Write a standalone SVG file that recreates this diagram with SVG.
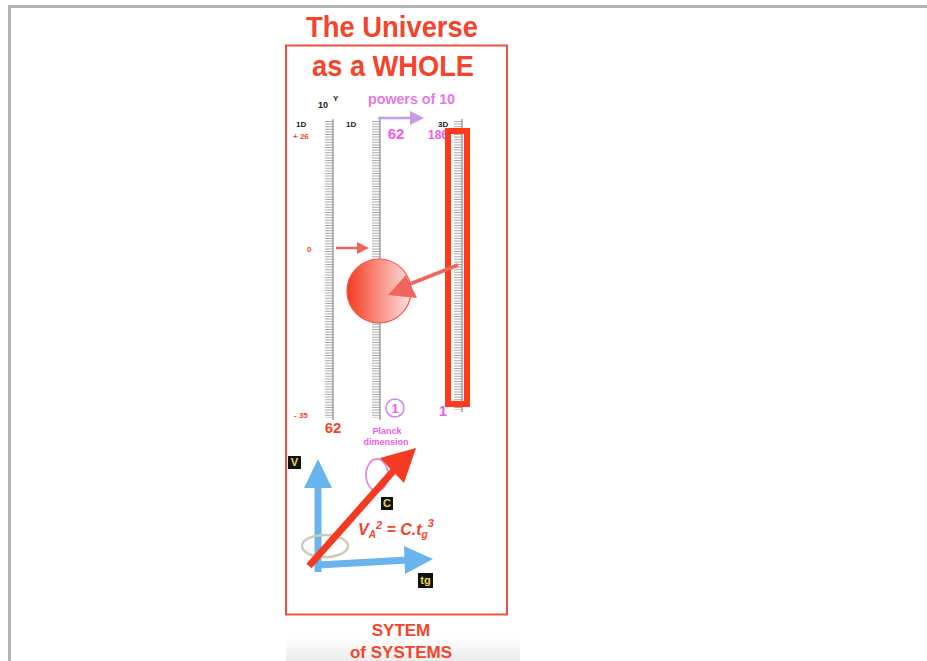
<svg xmlns="http://www.w3.org/2000/svg" width="927" height="661" viewBox="0 0 927 661">
<defs>
<style>
.t{font-family:"Liberation Sans",Arial,sans-serif;font-weight:bold}
.red{fill:#f5442c}
.mag{fill:#ec5ee8}
.blk{fill:#222}
.tick{stroke:#ababab;stroke-width:8;stroke-dasharray:1 1.6;fill:none}
.axis{stroke:#8a8a8a;stroke-width:1.2}
.lbl{fill:#111}
.lbltxt{fill:#e8dc3a;font-family:"Liberation Sans",Arial,sans-serif;font-weight:bold;font-size:11px}
</style>
<linearGradient id="ball" x1="0" y1="0" x2="1" y2="0">
<stop offset="0" stop-color="#f53a22"/>
<stop offset="1" stop-color="#fde2e2"/>
</linearGradient>
<linearGradient id="band" x1="0" y1="0" x2="0" y2="1">
<stop offset="0" stop-color="#ffffff"/>
<stop offset="1" stop-color="#ececec"/>
</linearGradient>
</defs>
<rect width="927" height="661" fill="#fff"/>
<g id="frame">
<path d="M9.5,661 V6.5 H927" fill="none" stroke="#b4b4b4" stroke-width="3"/>
</g>
<rect x="286" y="637" width="234" height="24" fill="url(#band)"/>
<g id="box">
<rect x="286" y="45.5" width="221" height="569" fill="none" stroke="#f05040" stroke-width="2"/>
</g>
<g id="title">
<text class="t red" x="392" y="37" font-size="30" text-anchor="middle" textLength="172" lengthAdjust="spacingAndGlyphs">The Universe</text>
<text class="t red" x="393" y="76" font-size="30" text-anchor="middle" textLength="162" lengthAdjust="spacingAndGlyphs">as a WHOLE</text>
</g>
<g id="ruler1">
<line class="tick" x1="329" y1="121" x2="329" y2="418"/>
<line class="axis" x1="333" y1="119" x2="333" y2="420"/>
<text class="t blk" x="296" y="127" font-size="8">1D</text>
<text class="t red" x="293" y="139" font-size="8">+ 26</text>
<text class="t red" x="307" y="252" font-size="8">0</text>
<text class="t red" x="294" y="418" font-size="8">- 35</text>
<text class="t red" x="333" y="433" font-size="15" text-anchor="middle">62</text>
<text class="t blk" x="318" y="108" font-size="9">10</text>
<text class="t blk" x="333" y="101" font-size="8">Y</text>
</g>
<g id="ruler2">
<line class="tick" x1="376" y1="121" x2="376" y2="418"/>
<line class="axis" x1="380" y1="119" x2="380" y2="420"/>
<text class="t blk" x="346" y="127" font-size="8">1D</text>
<text class="t" x="368" y="104" font-size="14" fill="#e47ae4" textLength="87" lengthAdjust="spacingAndGlyphs">powers of 10</text>
<text class="t mag" x="396" y="139" font-size="15" text-anchor="middle">62</text>
<circle cx="395" cy="408" r="9" fill="none" stroke="#c88ae6" stroke-width="1.5"/>
<text class="t mag" x="395" y="413" font-size="13" text-anchor="middle">1</text>
<text class="t mag" x="387" y="434" font-size="9" text-anchor="middle">Planck</text>
<text class="t mag" x="386" y="445" font-size="9" text-anchor="middle">dimension</text>
</g>
<g id="ruler3">
<line class="tick" x1="458" y1="121" x2="458" y2="410"/>
<line class="axis" x1="462" y1="119" x2="462" y2="412"/>
<text class="t blk" x="438" y="127" font-size="8">3D</text>
<text class="t mag" x="428" y="139" font-size="12">186</text>
<text class="t mag" x="443" y="416" font-size="15" text-anchor="middle">1</text>
<rect x="448" y="131" width="19" height="273" fill="none" stroke="#ff3a1c" stroke-width="6"/>
</g>
<g id="ball">
<circle cx="379" cy="291" r="32" fill="url(#ball)" stroke="#f25a48" stroke-width="1.2"/>
</g>
<g id="connectors">
<line x1="378" y1="118" x2="413" y2="118" stroke="#c79be6" stroke-width="2.5"/>
<path d="M410,111 L424,118 L410,125 Z" fill="#c79be6"/>
<line x1="336" y1="248" x2="360" y2="248" stroke="#f0665a" stroke-width="2.5"/>
<path d="M357,242 L369,248 L357,254 Z" fill="#f0665a"/>
<line x1="458" y1="265" x2="410" y2="284" stroke="#f0665a" stroke-width="3.5"/>
<path d="M388,295 L406,275 L417,298 Z" fill="#f0665a"/>
</g>
<g id="axes">
<line x1="318" y1="572" x2="318" y2="484" stroke="#6ab4ee" stroke-width="7"/>
<path d="M304,488 L318,459 L332,488 Z" fill="#6ab4ee"/>
<line x1="318" y1="565" x2="408" y2="560" stroke="#6ab4ee" stroke-width="7"/>
<path d="M404,546 L433,559 L405,574 Z" fill="#6ab4ee"/>
<ellipse cx="325" cy="546" rx="23" ry="11" fill="none" stroke="#cfc9b8" stroke-width="2.5"/>
<ellipse cx="377" cy="475" rx="11" ry="16" fill="none" stroke="#e48ae6" stroke-width="1.8"/>
<line x1="309" y1="566" x2="396" y2="468" stroke="#f53a22" stroke-width="7"/>
<path d="M380,458 L416,448 L404,483 Z" fill="#f53a22"/>
<text class="t red" x="358" y="535" font-size="16" font-style="italic">V<tspan font-size="10" dy="3">A</tspan><tspan font-size="11" dy="-9">2</tspan><tspan font-size="16" dy="6"> = C.t</tspan><tspan font-size="10" dy="3">g</tspan><tspan font-size="11" dy="-11">3</tspan></text>
</g>
<g id="labelV">
<rect class="lbl" x="288" y="456" width="13" height="13"/>
<text class="lbltxt" x="294.5" y="466" text-anchor="middle">V</text>
</g>
<g id="labelC">
<rect class="lbl" x="381" y="497" width="12" height="13"/>
<text class="lbltxt" x="387" y="507" text-anchor="middle">C</text>
</g>
<g id="labelTg">
<rect class="lbl" x="418" y="573" width="15" height="15"/>
<text class="lbltxt" x="425.5" y="584" text-anchor="middle">tg</text>
</g>
<g id="footer">
<text class="t red" x="401" y="636" font-size="17" text-anchor="middle">SYTEM</text>
<text class="t red" x="401" y="658" font-size="17" text-anchor="middle">of SYSTEMS</text>
</g>
</svg>
